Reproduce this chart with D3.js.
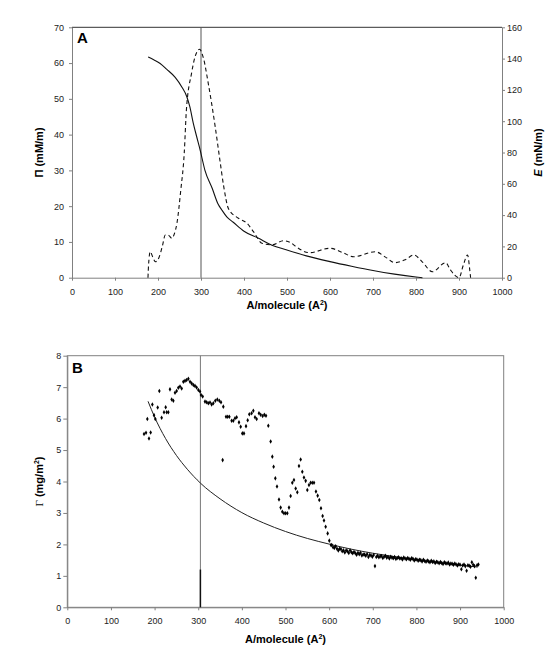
<!DOCTYPE html>
<html>
<head>
<meta charset="utf-8">
<script src="https://cdn.jsdelivr.net/npm/d3@7"></script>
<style>
  body { margin: 0; background: #fff; }
  svg text { font-family: "Liberation Sans", Arial, sans-serif; }
</style>
</head>
<body>
<div id="chart"></div>
<script>
// tick labels
const xTicks = [0, 100, 200, 300, 400, 500, 600, 700, 800, 900, 1000];
const piTicks = [0, 10, 20, 30, 40, 50, 60, 70];
const eTicks = [0, 20, 40, 60, 80, 100, 120, 140, 160];
const gammaTicks = [0, 1, 2, 3, 4, 5, 6, 7, 8];

// panel A, surface pressure (solid) : [A/molecule, Pi]
const piCurve = [[177,61.7],[190,60.9],[205,59.9],[220,58.3],[240,56.0],[255,53.4],[267,50.6],[274,47.8],
  [282,43.2],[290,39.4],[298,35.7],[309,30.1],[326,25.0],[340,20.5],[348,19.0],[360,17.0],[375,15.5],
  [400,13.0],[434,11.0],[465,9.1],[498,7.8],[545,6.1],[600,4.5],[650,3.2],[700,2.0],[750,1.0],[800,0.2],[815,0]];

// panel A, elasticity (dashed) : [A/molecule, E]
const eCurve = [[176.7,0],[178,8],[182,16.6],[188,13],[194,10.2],[203,13.4],[210,20],[217,27.3],[225,27],
  [232,25.2],[238,28],[244,34.8],[253,56],[261,79.5],[266,107],[278,130.6],[286,141],[296.6,146],[305,141],
  [317,124],[333,96.5],[344,75],[353,58],[364,44],[387,38],[407,34.8],[422,29.4],[442,22],[465,21],
  [492,23.6],[508,22.5],[521,19.8],[552,16],[600,18.8],[630,16],[655,13.4],[705,16.6],[730,13],[751,9.6],
  [775,11.5],[795,14.5],[815,10],[838,3.8],[869,9.6],[880,5],[900,0],[910,8],[920,14.5],[925,5],[927,0]];

// panel B, fitted curve : [A/molecule, Gamma]
const gammaCurve = [[185,6.55],[200,6.05],[225,5.37],[250,4.83],[275,4.39],[305,3.95],[350,3.45],[400,3.01],
  [450,2.68],[500,2.41],[550,2.19],[600,2.01],[650,1.85],[700,1.72],[750,1.61],[800,1.51],[850,1.42],
  [900,1.34],[940,1.28]];

// panel B, measured points : [A/molecule, Gamma]
const gammaPoints = [[175.8,5.51],[180.4,5.55],[183.4,5.99],[187.2,5.37],[191,5.56],[194.9,6.45],[198.7,6.11],
  [201.7,5.99],[207.1,6.35],[210.9,6.88],[216.2,6.03],[221.6,6.2],[225.4,6.36],[227.7,6.2],[231.5,6.2],
  [235.3,6.93],[239.2,6.61],[243,6.57],[246.8,6.82],[250.6,6.88],[254.4,6.98],[258.3,7.02],[262.1,6.96],
  [265.9,7.17],[269.7,7.2],[273.5,7.23],[277.4,7.27],[281.2,7.17],[285,7.12],[288.8,7.07],[292.6,7.04],
  [296.4,6.99],[300.3,6.91],[304.1,6.86],[306.4,6.75],[310.2,6.7],[315.5,6.54],[319.4,6.52],[323.2,6.49],
  [327,6.51],[330.8,6.45],[334.6,6.49],[339.2,6.57],[343.8,6.61],[348.4,6.57],[352.2,6.52],[357.5,6.38],
  [356,4.68],[363.7,6.06],[367.5,6.06],[371.3,6.06],[376.6,5.93],[380.5,5.93],[384.3,6.01],[388.1,6.04],
  [393.4,5.88],[397.3,5.74],[401.1,5.53],[404.9,5.53],[409.5,5.76],[413.3,5.95],[417.1,6.14],[422.4,6.17],
  [426.3,6.25],[430.1,6.04],[433.9,5.99],[439.2,6.17],[443.1,6.12],[447.6,6.08],[451.5,6.12],[455.3,6.09],
  [460.6,5.77],[466,5.27],[469.8,4.79],[472.8,4.47],[476.7,4.1],[480.5,3.84],[485.1,3.43],[488.9,3.17],
  [492.7,3.04],[496.5,2.99],[500.3,2.99],[504.2,2.99],[508,3.17],[511.8,3.54],[515.6,3.96],[519.4,4.05],
  [523.3,3.78],[527.1,3.66],[530.9,4.49],[534.7,4.7],[538.5,4.31],[542.3,4.13],[546.2,4.02],[550,3.73],
  [553.8,3.89],[557.6,3.96],[561.4,3.96],[565.3,3.96],[569.8,3.68],[573.7,3.55],[577.5,3.41],[581.3,3.15],
  [585.1,2.9],[588.2,2.76],[592,2.56],[596.6,2.35],[600.4,2.12],[604.2,1.98],
  [606,1.98],[609,1.91],[612,1.89],[615,1.94],[618,1.86],[621,1.81],[624,1.86],[627,1.85],[630,1.78],
  [633,1.81],[636,1.74],[639,1.81],[642,1.78],[645,1.73],[648,1.81],[651,1.75],[654,1.72],[657,1.76],
  [660,1.72],[663,1.67],[666,1.73],[669,1.69],[672,1.73],[675,1.65],[678,1.68],[681,1.68],[684,1.64],
  [687,1.69],[690,1.6],[693,1.66],[696,1.65],[699,1.61],[702,1.66],[705,1.31],[708,1.6],[711,1.64],
  [714,1.59],[717,1.62],[720,1.63],[723,1.57],[726,1.61],[729,1.64],[732,1.58],[735,1.6],[738,1.55],
  [741,1.61],[744,1.58],[747,1.56],[750,1.6],[753,1.54],[756,1.57],[759,1.59],[762,1.55],[765,1.56],
  [768,1.52],[771,1.58],[774,1.55],[777,1.53],[780,1.57],[783,1.54],[786,1.51],[789,1.56],[792,1.54],
  [795,1.49],[798,1.53],[801,1.52],[804,1.48],[807,1.51],[810,1.5],[813,1.46],[816,1.51],[819,1.47],
  [822,1.45],[825,1.49],[828,1.46],[831,1.43],[834,1.48],[837,1.44],[840,1.46],[843,1.41],[846,1.45],
  [849,1.43],[852,1.4],[855,1.44],[858,1.41],[861,1.38],[864,1.43],[867,1.4],[870,1.39],[873,1.42],
  [876,1.36],[879,1.39],[882,1.38],[885,1.35],[888,1.39],[891,1.36],[894,1.33],[897,1.37],[900,1.35],
  [903,1.21],[906,1.33],[909,1.36],[912,1.31],[915,1.16],[918,1.34],[921,1.32],[924,1.29],[927,1.43],
  [930,1.35],[933,1.31],[936,0.94],[939,1.34],[942,1.36]];

const markerA = 300;
const markerB = 305;

const width = 557, height = 658;
const svg = d3.select("#chart").append("svg")
  .attr("width", width)
  .attr("height", height);

svg.append("rect").attr("width", width).attr("height", height).attr("fill", "#fff");

const axisColor = "#808080";
const fmt = d3.format("d");

function styleAxis(g) {
  g.selectAll(".domain").attr("stroke", axisColor);
  g.selectAll(".tick line").attr("stroke", axisColor);
  g.selectAll(".tick text").attr("fill", "#222").style("font-size", "9px");
}

// ---------- panel A ----------
const xA = d3.scaleLinear().domain([0, 1000]).range([72, 502]);
const yPi = d3.scaleLinear().domain([0, 70]).range([277.7, 27.3]);
const yE = d3.scaleLinear().domain([0, 160]).range([277.7, 27.3]);

svg.append("line")
  .attr("x1", xA(0)).attr("x2", xA(1000))
  .attr("y1", yPi(70)).attr("y2", yPi(70))
  .attr("stroke", "#333");

svg.append("g")
  .attr("transform", "translate(0," + yPi(0) + ")")
  .call(d3.axisBottom(xA).tickValues(xTicks).tickFormat(fmt).tickSize(3).tickSizeOuter(0).tickPadding(8))
  .call(styleAxis);

svg.append("g")
  .attr("transform", "translate(" + xA(0) + ",0)")
  .call(d3.axisLeft(yPi).tickValues(piTicks).tickFormat(fmt).tickSize(3).tickSizeOuter(0).tickPadding(5))
  .call(styleAxis);

svg.append("g")
  .attr("transform", "translate(" + xA(1000) + ",0)")
  .call(d3.axisRight(yE).tickValues(eTicks).tickFormat(fmt).tickSize(3).tickSizeOuter(0).tickPadding(2))
  .call(styleAxis);

svg.append("line")
  .attr("x1", xA(markerA)).attr("x2", xA(markerA))
  .attr("y1", yPi(70)).attr("y2", yPi(0))
  .attr("stroke", "#555");

const lineA = d3.line().x(d => xA(d[0])).y(d => yPi(d[1])).curve(d3.curveMonotoneX);
const lineE = d3.line().x(d => xA(d[0])).y(d => yE(d[1])).curve(d3.curveMonotoneX);

svg.append("path")
  .attr("d", lineA(piCurve))
  .attr("fill", "none")
  .attr("stroke", "#111")
  .attr("stroke-width", 1.1);

svg.append("path")
  .attr("d", lineE(eCurve))
  .attr("fill", "none")
  .attr("stroke", "#111")
  .attr("stroke-width", 1.1)
  .attr("stroke-dasharray", "4,3");

svg.append("text")
  .attr("x", 77).attr("y", 43)
  .attr("font-size", "15px").attr("font-weight", "bold")
  .text("A");

svg.append("text")
  .attr("transform", "translate(43," + (yPi(35)) + ") rotate(-90)")
  .attr("text-anchor", "middle")
  .attr("font-size", "11px").attr("font-weight", "bold")
  .text("Π (mM/m)");

const eLabel = svg.append("text")
  .attr("transform", "translate(542," + (yE(80)) + ") rotate(-90)")
  .attr("text-anchor", "middle")
  .attr("font-size", "11px").attr("font-weight", "bold");
eLabel.append("tspan").attr("font-style", "italic").text("E");
eLabel.append("tspan").text(" (mN/m)");

function xLabel(x, y) {
  const t = svg.append("text")
    .attr("x", x).attr("y", y)
    .attr("text-anchor", "middle")
    .attr("font-size", "11px").attr("font-weight", "bold");
  t.append("tspan").text("A/molecule (A");
  t.append("tspan").attr("font-size", "7px").attr("dy", "-4").text("2");
  t.append("tspan").attr("dy", "4").text(")");
}
xLabel(xA(500), 309);

// ---------- panel B ----------
const xB = d3.scaleLinear().domain([0, 1000]).range([67.3, 503.7]);
const yG = d3.scaleLinear().domain([0, 8]).range([607.3, 355.7]);

svg.append("rect")
  .attr("x", xB(0)).attr("y", yG(8))
  .attr("width", xB(1000) - xB(0)).attr("height", yG(0) - yG(8))
  .attr("fill", "none").attr("stroke", axisColor);

svg.append("g")
  .attr("transform", "translate(0," + yG(0) + ")")
  .call(d3.axisBottom(xB).tickValues(xTicks).tickFormat(fmt).tickSize(3).tickSizeOuter(0).tickPadding(7))
  .call(styleAxis);

svg.append("g")
  .attr("transform", "translate(" + xB(0) + ",0)")
  .call(d3.axisLeft(yG).tickValues(gammaTicks).tickFormat(fmt).tickSize(4).tickSizeOuter(0).tickPadding(2))
  .call(styleAxis);

svg.append("line")
  .attr("x1", xB(markerB)).attr("x2", xB(markerB))
  .attr("y1", yG(8)).attr("y2", yG(0))
  .attr("stroke", "#777");
svg.append("line")
  .attr("x1", xB(markerB)).attr("x2", xB(markerB))
  .attr("y1", yG(1.2)).attr("y2", yG(0))
  .attr("stroke", "#111").attr("stroke-width", 1.5);

const lineG = d3.line().x(d => xB(d[0])).y(d => yG(d[1])).curve(d3.curveMonotoneX);
svg.append("path")
  .attr("d", lineG(gammaCurve))
  .attr("fill", "none")
  .attr("stroke", "#222")
  .attr("stroke-width", 1);

const diamond = d3.symbol().type(d3.symbolDiamond).size(6);
svg.append("g")
  .selectAll("path")
  .data(gammaPoints)
  .enter()
  .append("path")
  .attr("d", diamond)
  .attr("transform", d => "translate(" + xB(d[0]) + "," + yG(d[1]) + ")")
  .attr("fill", "#000");

svg.append("text")
  .attr("x", 72).attr("y", 372.5)
  .attr("font-size", "15px").attr("font-weight", "bold")
  .text("B");

const gLabel = svg.append("text")
  .attr("transform", "translate(43," + yG(4) + ") rotate(-90)")
  .attr("text-anchor", "middle")
  .attr("font-size", "11px").attr("font-weight", "bold");
gLabel.append("tspan").attr("font-weight", "normal").attr("font-family", "Liberation Serif, serif").text("Γ");
gLabel.append("tspan").text(" (mg/m");
gLabel.append("tspan").attr("font-size", "7px").attr("dy", "-4").text("2");
gLabel.append("tspan").attr("dy", "4").text(")");

xLabel(xB(500), 643);
</script>
</body>
</html>
